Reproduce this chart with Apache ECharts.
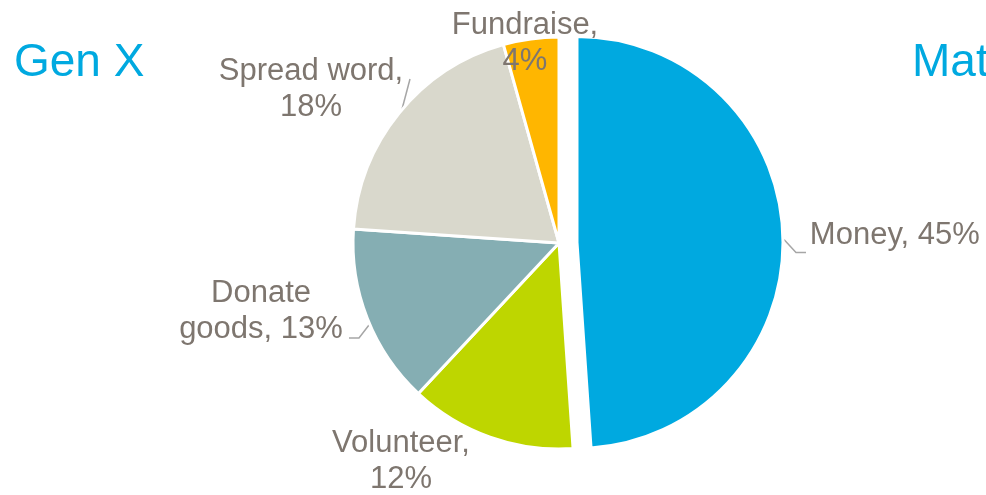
<!DOCTYPE html>
<html>
<head>
<meta charset="utf-8">
<script src="https://cdn.jsdelivr.net/npm/echarts@6/dist/echarts.min.js"></script>
<style>
  html, body { margin: 0; padding: 0; background: #ffffff; }
  #chart { width: 986px; height: 495px; }
</style>
</head>
<body>
<div id="chart"></div>
<script>
// Ways people give, share of respondents (%)
const categories = ['Money', 'Volunteer', 'Donate goods', 'Spread word', 'Fundraise'];
const shares = [45, 12, 13, 18, 4];
const groupTitles = ['Gen X', 'Mature'];

const sliceColors = ['#00a9e0', '#bed600', '#85aeb3', '#d9d8cc', '#ffb600'];
const labelColor = '#7e766f';
const titleColor = '#00a9e0';
const fontFamily = '"Liberation Sans", Arial, sans-serif';
const pullOut = 18;

// Where each slice label sits, and its leader line if it has one.
// The pulled-out slice keeps its own label spot (set through padding
// below); its leader line is given before the pull-out shift.
const labelSpots = [
  { x: null, y: null, align: 'left',  line: [[766, 240], [778, 253], [788, 253]] },
  { x: 401, y: 461, align: 'center', line: null },
  { x: 261, y: 311, align: 'center', line: [[349, 338], [359, 338], [369, 325]] },
  { x: 311, y: 89,  align: 'center', line: [[410, 79], [405.5, 96], [401, 113]] },
  { x: 525, y: 43,  align: 'center', line: null }
];

function labelText(p) {
  const pct = p.value + '%';
  if (p.dataIndex === 0) return p.name + ', ' + pct;
  if (p.name === 'Donate goods') return p.name.replace(' ', '\n') + ', ' + pct;
  return p.name + ',\n' + pct;
}

const chart = echarts.init(document.getElementById('chart'), null, { renderer: 'canvas' });

chart.setOption({
  animation: false,
  backgroundColor: '#ffffff',
  title: [
    { text: groupTitles[0], left: 9, top: 35,
      textStyle: { color: titleColor, fontSize: 46, fontWeight: 'normal', fontFamily: fontFamily } },
    { text: groupTitles[1], left: 907, top: 35,
      textStyle: { color: titleColor, fontSize: 46, fontWeight: 'normal', fontFamily: fontFamily } }
  ],
  series: [{
    type: 'pie',
    center: [559, 243],
    radius: 206,
    startAngle: 90,
    clockwise: true,
    selectedMode: 'single',
    selectedOffset: pullOut,
    avoidLabelOverlap: false,
    emphasis: { disabled: true },
    itemStyle: { borderColor: '#ffffff', borderWidth: 3 },
    label: {
      show: true,
      position: 'outside',
      formatter: labelText,
      color: labelColor,
      fontSize: 31,
      lineHeight: 36,
      fontFamily: fontFamily,
      align: 'center',
      width: 220,
      overflow: 'none'
    },
    labelLine: {
      show: true,
      lineStyle: { color: '#a6a6a6', width: 1.5 }
    },
    labelLayout: function (params) {
      const s = labelSpots[params.dataIndex];
      const out = { hideOverlap: false };
      if (s.x != null) {
        out.x = s.x; out.y = s.y; out.align = s.align; out.verticalAlign = 'middle';
      }
      if (s.line) out.labelLinePoints = s.line;
      return out;
    },
    data: categories.map(function (name, i) {
      const item = {
        name: name,
        value: shares[i],
        selected: i === 0,
        itemStyle: { color: sliceColors[i] },
        label: { align: labelSpots[i].align },
        labelLine: { show: !!labelSpots[i].line }
      };
      if (i === 0) {
        item.label = { align: 'left', distanceToLabelLine: 0, padding: [32, 0, 0, 27] };
        item.labelLine = { show: true, length: 0, length2: 0 };
      }
      return item;
    })
  }]
});
</script>
</body>
</html>
